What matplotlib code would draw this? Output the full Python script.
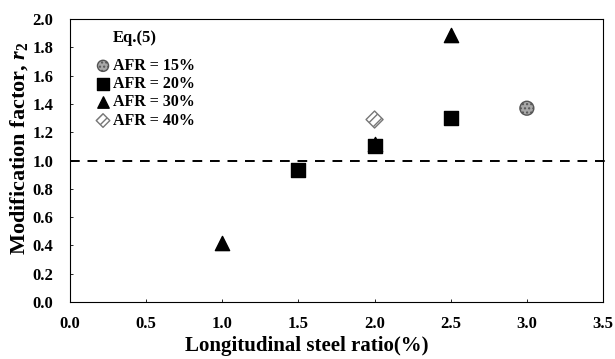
import matplotlib
matplotlib.use("Agg")
import matplotlib.pyplot as plt

plt.rcParams['font.family'] = ['Liberation Serif', 'DejaVu Serif']
plt.rcParams['font.weight'] = 'bold'
plt.rcParams['mathtext.fontset'] = 'custom'
plt.rcParams['mathtext.it'] = 'Liberation Serif:italic:bold'
plt.rcParams['mathtext.rm'] = 'Liberation Serif:bold'

x15 = [3.0]
y15 = [1.37]
x20 = [1.5, 2.0, 2.5]
y20 = [0.93, 1.10, 1.30]
x30 = [1.0, 2.0, 2.5]
y30 = [0.42, 1.12, 1.89]
x40 = [2.0]
y40 = [1.29]
xticks = [0.0, 0.5, 1.0, 1.5, 2.0, 2.5, 3.0, 3.5]
yticks = [0.0, 0.2, 0.4, 0.6, 0.8, 1.0, 1.2, 1.4, 1.6, 1.8, 2.0]

fig = plt.figure(figsize=(6.15, 3.59), dpi=100)
ax = fig.add_axes([0.1138, 0.1588, 0.8667, 0.788])

ax.plot([0, 3.55], [1.0, 1.0], color='black', linestyle=(0, (5, 4)), linewidth=1.4, zorder=1, clip_on=False)

ax.scatter(x15, y15, marker='o', s=100, facecolor='#a8a8a8', edgecolor='#555555', linewidth=1, hatch='....', label='AFR = 15%', zorder=3)
ax.scatter(x30, y30, marker='^', s=105, facecolor='black', edgecolor='black', label='AFR = 30%', zorder=3)
ax.scatter(x20, y20, marker='s', s=100, facecolor='black', edgecolor='black', label='AFR = 20%', zorder=4)
ax.scatter(x40, y40, marker='D', s=75, facecolor='white', edgecolor='#777777', linewidth=1, hatch='////', label='AFR = 40%', zorder=3)

ax.set_xlim(0, 3.5)
ax.set_ylim(0, 2.0)
ax.set_xticks(xticks)
ax.set_yticks(yticks)
ax.set_xticklabels([f'{v:.1f}' for v in xticks], fontsize=12, fontweight='bold')
ax.set_yticklabels([f'{v:.1f}' for v in yticks], fontsize=12, fontweight='bold')
ax.tick_params(axis='x', direction='in', length=2, width=0.6, pad=10)
ax.tick_params(axis='y', direction='in', length=2, width=0.6, pad=12)
for sp in ax.spines.values():
    sp.set_linewidth(0.8)

ax.set_xlabel('Longitudinal steel ratio(%)', fontsize=15, fontweight='bold')
ax.xaxis.set_label_coords(0.445, -0.12)
ax.set_ylabel('Modification factor, $r_{2}$', fontsize=16, fontweight='bold')
ax.yaxis.set_label_coords(-0.075, 0.545)

ax.text(0.122, 0.933, 'Eq.(5)', transform=ax.transAxes, ha='center', va='center',
        fontsize=12, fontweight='bold')

handles, labels = ax.get_legend_handles_labels()
order = [labels.index(l) for l in ['AFR = 15%', 'AFR = 20%', 'AFR = 30%', 'AFR = 40%']]
leg = ax.legend([handles[i] for i in order], [labels[i] for i in order],
                loc='upper left', bbox_to_anchor=(0.035, 0.885),
                frameon=False, fontsize=11.5, handletextpad=0.1, labelspacing=0.14,
                borderaxespad=0.0, handlelength=1.0, markerscale=0.8)
for t in leg.get_texts():
    t.set_fontweight('bold')

fig.savefig('out.png', dpi=100)
